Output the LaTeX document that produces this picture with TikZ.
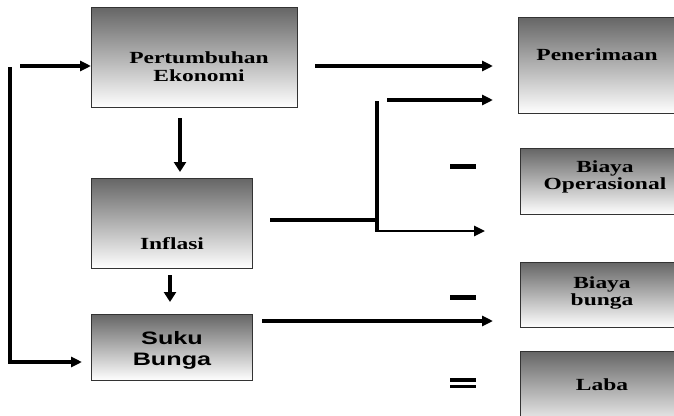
\documentclass[tikz,border=0pt]{standalone}
\usepackage{fontspec}
\usetikzlibrary{arrows.meta}
\newfontfamily\boxserif[FakeStretch=1.38]{Liberation Serif}
\newfontfamily\boxsans[FakeStretch=1.4]{Liberation Sans}
\begin{document}
\begin{tikzpicture}[x=1pt,y=-1pt,
  box/.style={draw=black!80, line width=1pt, top color=black!60, bottom color=white,
    anchor=north west, inner sep=0pt},
  txt/.style={align=center, font=\boxserif\bfseries\fontsize{17}{18}\selectfont, inner sep=0pt},
  arr/.style={line width=3.4pt, -{Triangle[length=11pt,width=10pt]}},
  bar/.style={line width=5pt},
  thick line/.style={line width=4.4pt}]
\clip (0,0) rectangle (674,415);
\useasboundingbox (0,0) rectangle (674,415);

% boxes
\node[box, minimum width=206pt, minimum height=100pt] (pe) at (91,7) {};
\node[box, minimum width=161pt, minimum height=90pt] (inf) at (91,178) {};
\node[box, minimum width=161pt, minimum height=66pt] (sb) at (91,314) {};
\node[box, minimum width=170pt, minimum height=96pt] (pen) at (518,17) {};
\node[box, minimum width=170pt, minimum height=66pt] (bo) at (520,148) {};
\node[box, minimum width=170pt, minimum height=65pt] (bb) at (520,262) {};
\node[box, minimum width=170pt, minimum height=80pt] (laba) at (520,351) {};

% labels
\node[txt] (tpe) at (199,67) {Pertumbuhan\\Ekonomi};
\node[txt] (tinf) at (172,244) {Inflasi};
\node[txt, font=\boxsans\bfseries\fontsize{18}{21}\selectfont] (tsb) at (172,350) {Suku\\Bunga};
\node[txt] (tpen) at (597,55) {Penerimaan};
\node[txt, font=\boxserif\bfseries\fontsize{17}{14}\selectfont] (tbo) at (605,177) {Biaya\\Operasional};
\node[txt, font=\boxserif\bfseries\fontsize{17}{17}\selectfont] (tbb) at (602,293) {Biaya\\bunga};
\node[txt] (tlaba) at (602,385) {Laba};

% loose ends of the connectors
\coordinate (s1) at (20,66);
\coordinate (l0) at (10,67);
\coordinate (l1) at (10,362);
\coordinate (l2) at (82,362);
\coordinate (p1) at (315,66);
\coordinate (p2) at (493,66);
\coordinate (d1) at (180,118);
\coordinate (d2) at (180,172);
\coordinate (i1) at (270,220);
\coordinate (j) at (377,220);
\coordinate (jt) at (377,101);
\coordinate (jb) at (377,231);
\coordinate (t1) at (387,100);
\coordinate (t2) at (493,100);
\coordinate (b2) at (485,231);
\coordinate (e1) at (170,275);
\coordinate (e2) at (170,302);
\coordinate (u1) at (262,321);
\coordinate (u2) at (493,321);

% connectors
\draw[arr] (s1) -- (pe.west |- s1);
\draw[thick line] (l0) -- (l1);
\draw[arr, line width=4pt] ([xshift=-2.2pt]l1) -- (l2);
\draw[arr] (p1) -- (p2);
\draw[arr, line width=4.4pt, -{Triangle[length=10pt,width=12pt]}] (d1) -- (d2);
\draw[thick line] (i1) -- (j);
\draw[thick line] (jt) -- (jb);
\draw[arr] (t1) -- (t2);
\draw[arr, line width=2.6pt] ([xshift=-2.2pt]jb) -- (b2);
\draw[arr, line width=4.4pt, -{Triangle[length=10pt,width=12pt]}] (e1) -- (e2);
\draw[arr] (u1) -- (u2);

% signs between the result boxes
\coordinate (m1) at (450,166);
\coordinate (m2) at (450,297);
\coordinate (q1) at (450,380);
\coordinate (q2) at (450,386.5);
\draw[bar] (m1) -- ++(26,0);
\draw[bar] (m2) -- ++(26,0);
\draw[line width=3.5pt] (q1) -- ++(26,0);
\draw[line width=3.5pt] (q2) -- ++(26,0);
\end{tikzpicture}
\end{document}
